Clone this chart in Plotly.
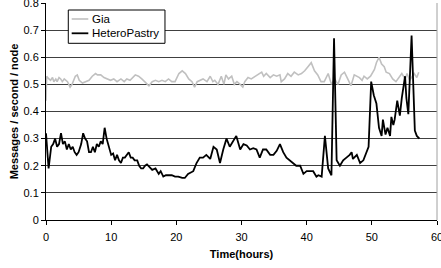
import plotly.graph_objects as go

# HeteroPastry (black)
hp_x = [0.0, 0.4, 0.8, 1.1, 1.4, 1.7, 2.0, 2.3, 2.6, 2.9, 3.2, 3.5, 3.8, 4.1, 4.4, 4.7, 5.0, 5.4, 5.7, 6.0,
        6.3, 6.6, 6.9, 7.2, 7.5, 7.8, 8.1, 8.4, 8.7, 9.0, 9.3, 9.7, 10.0, 10.3, 10.6, 10.9, 11.2, 11.5, 11.8,
        12.1, 12.4, 12.7, 13.0, 13.3, 13.6, 14.0, 14.3, 14.6, 14.9, 15.2, 15.5, 16.0, 16.3, 16.8, 17.3, 17.6,
        18.0, 18.4, 18.8, 19.3, 19.8, 20.3, 20.9, 21.3, 21.8, 22.3, 22.6, 23.1, 23.6, 24.1, 24.6, 25.2, 25.7,
        26.2, 26.7, 27.2, 27.7, 28.2, 28.7, 29.2, 29.8, 30.3, 30.8, 31.3, 31.8, 32.3, 32.8, 33.3, 33.8, 34.4,
        34.9, 35.4, 35.9, 36.4, 36.9, 37.4, 37.9, 38.4, 39.0, 39.5, 40.0, 40.5, 41.0, 41.5, 41.8, 42.3, 42.8,
        43.3, 43.8, 44.2, 44.6, 45.1, 45.6, 46.1, 46.6, 46.9, 47.1, 47.7, 48.2, 48.7, 49.2, 49.5, 49.9, 50.3,
        50.7, 51.1, 51.5, 51.7, 52.1, 52.4, 52.8, 53.0, 53.3, 53.5, 53.9, 54.3, 54.6, 55.1, 55.3, 55.6, 56.1,
        56.3, 56.6, 56.9, 57.3]
hp_y = [0.32, 0.19, 0.27, 0.28, 0.30, 0.27, 0.28, 0.32, 0.28, 0.29, 0.26, 0.28, 0.26, 0.27, 0.25, 0.24, 0.25, 0.28, 0.32, 0.30,
        0.29, 0.25, 0.25, 0.27, 0.25, 0.28, 0.27, 0.29, 0.28, 0.34, 0.30, 0.26, 0.24, 0.245, 0.22, 0.24, 0.22, 0.21, 0.23,
        0.23, 0.24, 0.25, 0.23, 0.23, 0.22, 0.22, 0.20, 0.19, 0.19, 0.20, 0.205, 0.19, 0.185, 0.19, 0.17, 0.18,
        0.16, 0.165, 0.165, 0.165, 0.16, 0.16, 0.155, 0.155, 0.17, 0.175, 0.18, 0.21, 0.23, 0.23, 0.24, 0.225, 0.27,
        0.26, 0.21, 0.26, 0.30, 0.27, 0.29, 0.31, 0.26, 0.28, 0.275, 0.26, 0.265, 0.26, 0.23, 0.26, 0.26, 0.24,
        0.24, 0.255, 0.28, 0.25, 0.23, 0.22, 0.21, 0.20, 0.20, 0.17, 0.18, 0.18, 0.18, 0.16, 0.165, 0.16, 0.31,
        0.19, 0.165, 0.67, 0.22, 0.20, 0.22, 0.23, 0.24, 0.25, 0.225, 0.24, 0.21, 0.22, 0.25, 0.27, 0.51, 0.46,
        0.43, 0.34, 0.31, 0.37, 0.315, 0.34, 0.31, 0.38, 0.35, 0.37, 0.44, 0.385, 0.45, 0.53, 0.45, 0.39, 0.68,
        0.55, 0.33, 0.31, 0.30]

# Gia (grey)
gia_x = [0.0, 0.1, 0.45, 0.7, 1.0, 1.2, 1.5, 1.7, 2.0, 2.25, 2.5, 2.8, 3.3, 3.7, 4.0, 4.5, 4.8, 5.1, 5.6, 6.1,
         6.6, 7.1, 7.6, 7.9, 8.4, 8.9, 9.4, 9.9, 10.4, 10.9, 11.5, 12.0, 12.4, 12.9, 13.7, 14.2, 14.7, 15.2,
         15.8, 16.3, 16.8, 17.3, 17.8, 18.3, 18.8, 19.3, 19.8, 20.4, 20.9, 21.4, 21.9, 22.4, 22.8, 23.2, 23.7,
         24.1, 24.7, 25.2, 25.6, 25.9, 26.4, 26.9, 27.3, 27.6, 28.0, 28.5, 28.9, 29.3, 29.8, 30.2, 30.5, 31.0,
         31.5, 32.1, 32.6, 33.1, 33.4, 33.8, 34.4, 34.9, 35.4, 35.9, 36.1, 36.6, 37.1, 37.6, 38.1, 38.7, 39.2,
         39.7, 40.2, 40.7, 41.2, 41.7, 42.2, 42.7, 43.3, 43.8, 44.3, 44.8, 45.3, 45.8, 46.3, 46.8, 47.3, 48.1,
         48.5, 48.8, 49.3, 49.8, 50.4, 50.7, 51.1, 51.5, 51.9, 52.2, 52.7, 53.2, 53.7, 54.2, 54.6, 55.1, 55.4,
         55.8, 56.1, 56.5, 56.9, 57.2]
gia_y = [0.44, 0.53, 0.52, 0.515, 0.525, 0.51, 0.52, 0.51, 0.525, 0.52, 0.51, 0.52, 0.51, 0.49, 0.50, 0.53, 0.535, 0.515, 0.505, 0.51,
         0.515, 0.53, 0.54, 0.535, 0.535, 0.525, 0.52, 0.515, 0.52, 0.51, 0.52, 0.51, 0.52, 0.515, 0.535, 0.53, 0.52, 0.51,
         0.495, 0.51, 0.515, 0.51, 0.515, 0.51, 0.52, 0.51, 0.51, 0.54, 0.55, 0.54, 0.52, 0.51, 0.49, 0.51, 0.515,
         0.52, 0.51, 0.53, 0.51, 0.515, 0.50, 0.53, 0.50, 0.535, 0.52, 0.53, 0.50, 0.51, 0.50, 0.49, 0.51, 0.525,
         0.52, 0.53, 0.535, 0.545, 0.53, 0.54, 0.525, 0.535, 0.53, 0.535, 0.51, 0.52, 0.54, 0.53, 0.545, 0.535, 0.54,
         0.55, 0.565, 0.58, 0.55, 0.535, 0.51, 0.51, 0.54, 0.50, 0.52, 0.50, 0.535, 0.545, 0.52, 0.495, 0.535, 0.525,
         0.515, 0.53, 0.52, 0.53, 0.555, 0.58, 0.60, 0.575, 0.565, 0.545, 0.54, 0.52, 0.51, 0.525, 0.54, 0.52, 0.54,
         0.515, 0.525, 0.54, 0.525, 0.545]

series_names = ["Gia", "HeteroPastry"]
series_colors = ["#c0c0c0", "#000000"]

x_ticks = [0, 10, 20, 30, 40, 50, 60]
y_ticks = [0, 0.1, 0.2, 0.3, 0.4, 0.5, 0.6, 0.7, 0.8]
y_ticklabels = ["0", "0.1", "0.2", "0.3", "0.4", "0.5", "0.6", "0.7", "0.8"]

FONT = "Arial, Liberation Sans, sans-serif"

fig = go.Figure()
fig.add_trace(go.Scatter(x=gia_x, y=gia_y, mode="lines", name=series_names[0],
                         line=dict(color=series_colors[0], width=1.6)))
fig.add_trace(go.Scatter(x=hp_x, y=hp_y, mode="lines", name=series_names[1],
                         line=dict(color=series_colors[1], width=1.8)))

fig.update_layout(
    width=441, height=268,
    margin=dict(l=46, r=4, t=3, b=48, autoexpand=False),
    paper_bgcolor="white", plot_bgcolor="white",
    font=dict(family=FONT, size=11, color="black"),
    showlegend=False,
    xaxis=dict(range=[0, 60], tickvals=x_ticks, ticktext=[str(v) for v in x_ticks],
               automargin=False, ticklabeloverflow="allow", ticklabelstandoff=3,
               showgrid=False, zeroline=False, showline=True, linecolor="black", linewidth=1,
               ticks="outside", ticklen=4, tickcolor="black",
               title=dict(text="<b>Time(hours)</b>", font=dict(family=FONT, size=11), standoff=8),
               tickfont=dict(family=FONT, size=11)),
    yaxis=dict(range=[0, 0.8], tickvals=y_ticks, ticktext=y_ticklabels,
               automargin=False, ticklabeloverflow="allow",
               showgrid=True, gridcolor="#404040", gridwidth=1, zeroline=False,
               showline=True, linecolor="black", linewidth=1,
               ticks="outside", ticklen=4, tickcolor="black",
               title=dict(text="<b>Messages / second / node</b>", font=dict(family=FONT, size=11), standoff=2),
               tickfont=dict(family=FONT, size=11)),
)
# right border of plot area
fig.add_shape(type="line", xref="paper", yref="paper", x0=1, x1=1, y0=0, y1=1,
              line=dict(color="#a0a0a0", width=1))

# legend box (drawn to match the compact original legend)
fig.add_shape(type="rect", xref="paper", yref="paper", x0=0.057, x1=0.3043, y0=0.8143, y1=0.9677,
              line=dict(color="black", width=1), fillcolor="white", layer="above")
leg_y = [0.9263, 0.8604]
for name, color, yy, w in zip(series_names, series_colors, leg_y, [1.6, 1.8]):
    fig.add_shape(type="line", xref="paper", yref="paper", x0=0.0657, x1=0.1082, y0=yy, y1=yy,
                  line=dict(color=color, width=w), layer="above")
    fig.add_annotation(x=0.1125, y=yy, xref="paper", yref="paper", text=name, showarrow=False,
                       xanchor="left", yanchor="middle", font=dict(family=FONT, size=11.5, color="black"))

fig.write_html("out.html", config={"displayModeBar": False},
               post_script="document.body.style.margin='0';document.body.style.overflow='hidden';")
